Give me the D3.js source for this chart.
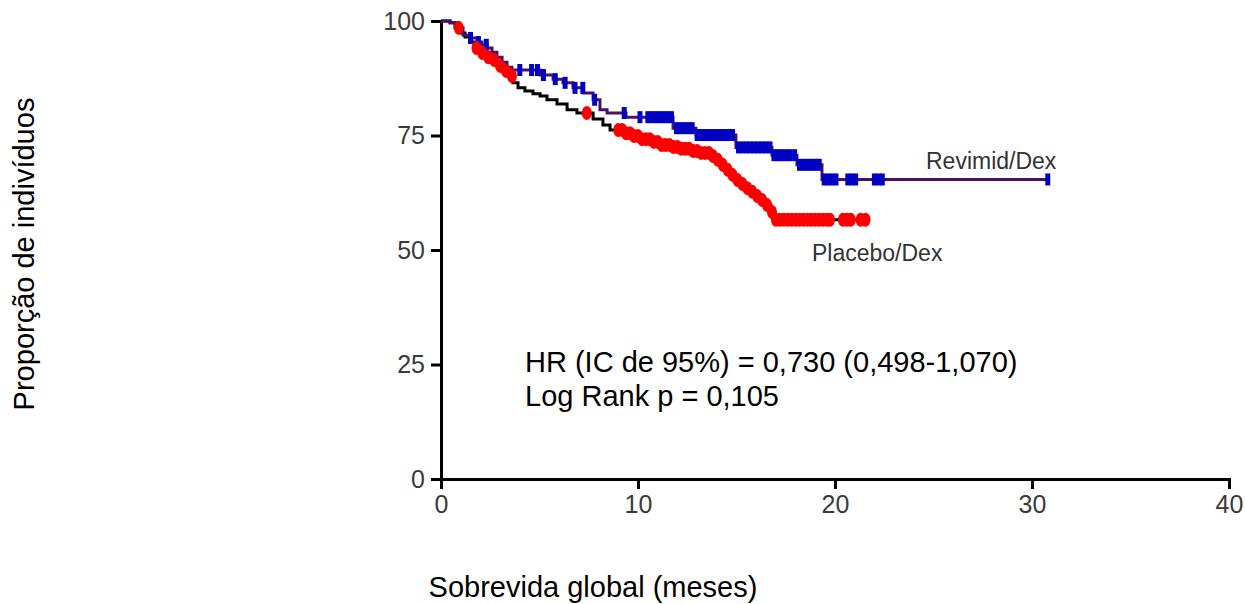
<!DOCTYPE html>
<html>
<head>
<meta charset="utf-8">
<script src="https://cdn.jsdelivr.net/npm/d3@7"></script>
<style>
  html, body { margin: 0; padding: 0; background: #fff; }
  svg { display: block; }
  text { font-family: "Liberation Sans", Arial, sans-serif; }
</style>
</head>
<body>
<svg id="chart" width="1245" height="604"></svg>
<script>
// ---- Data ----
const xTicks = [0, 10, 20, 30, 40];
const yTicks = [0, 25, 50, 75, 100];

// Revlimid/Dex: event times (months) and survival (%) after each step
const revTimes = [0.46, 0.81, 1.12, 1.47, 1.83, 2.08, 2.34, 2.59, 2.84, 3.10, 3.35, 3.60, 5.03, 5.69, 6.19, 6.70, 7.21, 7.72, 8.07, 8.43, 9.39, 11.78, 12.94, 14.97, 16.80, 18.07, 19.34];
const revSurv  = [99.6, 98.5, 96.9, 96.3, 95.4, 94.8, 94.1, 93.2, 92.1, 91.0, 89.9, 89.3, 88.2, 87.3, 86.5, 85.4, 84.3, 82.8, 80.6, 79.9, 79.0, 76.6, 75.1, 72.4, 70.7, 68.6, 65.4];
const revEnd = 30.8;
const revCensor = [1.5, 1.9, 2.3, 4.0, 4.6, 4.9, 5.2, 5.8, 6.3, 6.8, 7.2, 7.8, 9.3, 10.1,
  10.5, 10.7, 10.9, 11.1, 11.3, 11.5, 11.7,
  11.95, 12.15, 12.35, 12.55, 12.75,
  13.0, 13.2, 13.4, 13.6, 13.8, 14.0, 14.2, 14.4, 14.6, 14.8,
  15.1, 15.3, 15.5, 15.7, 15.9, 16.1, 16.3, 16.5, 16.7,
  16.9, 17.1, 17.3, 17.5, 17.7, 17.95,
  18.2, 18.4, 18.6, 18.8, 19.0, 19.2,
  19.45, 19.65, 19.85, 20.05, 20.65, 20.85, 21.05, 22.0, 22.2, 22.4, 30.8];

// Placebo/Dex
const plaTimes = [0.46, 0.71, 0.96, 1.22, 1.47, 1.73, 1.98, 2.23, 2.49, 2.84, 3.15, 3.40, 3.65, 3.91, 4.26, 4.67, 5.03, 5.38, 5.89, 6.40, 6.90, 7.72, 8.22, 8.58, 9.34, 9.75, 10.15, 10.61, 11.12, 11.62, 12.13, 12.64, 13.15, 13.65, 14.01, 14.26, 14.52, 14.77, 15.03, 15.28, 15.53, 15.79, 16.04, 16.29, 16.55, 16.75, 16.95];
const plaSurv  = [99.6, 98.5, 97.4, 96.5, 95.4, 94.1, 93.0, 92.1, 91.5, 90.2, 89.1, 88.0, 86.5, 85.4, 84.7, 84.1, 83.6, 82.8, 81.9, 80.6, 79.9, 78.6, 77.3, 76.2, 75.5, 74.9, 74.2, 73.6, 72.9, 72.5, 72.1, 71.6, 71.2, 70.5, 69.7, 68.6, 67.5, 66.4, 65.3, 64.4, 63.5, 62.7, 61.8, 60.9, 59.8, 58.3, 56.6];
const plaEnd = 21.6;
const plaCensor = [0.9, 1.8, 2.1, 2.4, 2.7, 3.0, 3.3, 3.6, 7.4,
  9.0, 9.2, 9.4, 9.6, 9.8, 10.0, 10.2, 10.4, 10.6, 10.8, 11.0, 11.2, 11.4, 11.6, 11.8, 12.0,
  12.2, 12.4, 12.6, 12.8, 13.0, 13.2, 13.4, 13.6, 13.8, 14.05, 14.3, 14.55, 14.8, 15.05,
  15.3, 15.55, 15.8, 16.05, 16.3, 16.55, 16.8, 17.0, 17.2, 17.4, 17.6, 17.8, 18.0, 18.2,
  18.4, 18.6, 18.8, 19.0, 19.2, 19.4, 19.6, 19.75, 20.4, 20.6, 20.8, 21.3, 21.55];

const labels = {
  rev: "Revimid/Dex",
  pla: "Placebo/Dex",
  hr: "HR (IC de 95%) = 0,730 (0,498-1,070)",
  lr: "Log Rank p = 0,105",
  xTitle: "Sobrevida global (meses)",
  yTitle: "Proporção de indivíduos"
};

// ---- Chart ----
const svg = d3.select("#chart");
const x = d3.scaleLinear().domain([0, 40]).range([441, 1229]);
const y = d3.scaleLinear().domain([0, 100]).range([479, 21]);

function stepPoints(times, surv, end) {
  const pts = [[0, 100]];
  times.forEach((t, i) => pts.push([t, surv[i]]));
  pts.push([end, surv[surv.length - 1]]);
  return pts;
}
function survAt(times, surv, t) {
  let s = 100;
  for (let i = 0; i < times.length; i++) { if (times[i] <= t) s = surv[i]; }
  return s;
}

const line = d3.line().x(d => x(d[0])).y(d => y(d[1])).curve(d3.curveStepAfter);

// Axes
const gx = svg.append("g").attr("transform", `translate(0,${y(0)})`)
  .call(d3.axisBottom(x).tickValues(xTicks).tickSize(10).tickSizeOuter(10).tickPadding(6).tickFormat(d3.format("d")));
const gy = svg.append("g").attr("transform", `translate(${x(0)},0)`)
  .call(d3.axisLeft(y).tickValues(yTicks).tickSize(10).tickSizeOuter(10).tickPadding(6).tickFormat(d3.format("d")));
[gx, gy].forEach(g => {
  g.select(".domain").attr("stroke", "#000").attr("stroke-width", 3);
  g.selectAll(".tick line").attr("stroke", "#000").attr("stroke-width", 3);
  g.selectAll(".tick text").attr("fill", "#3a3a3a").style("font-size", "25px")
    .style("font-family", "'Liberation Sans', Arial, sans-serif");
});

// Curves
svg.append("path").datum(stepPoints(plaTimes, plaSurv, plaEnd))
  .attr("d", line).attr("fill", "none").attr("stroke", "#000").attr("stroke-width", 3);
svg.append("path").datum(stepPoints(revTimes, revSurv, revEnd))
  .attr("d", line).attr("fill", "none").attr("stroke", "#4a1266").attr("stroke-width", 3);

// Censor marks
svg.append("g").selectAll("rect").data(revCensor).join("rect")
  .attr("x", d => x(d) - 2.5).attr("y", d => y(survAt(revTimes, revSurv, d)) - 6)
  .attr("width", 5).attr("height", 12).attr("fill", "#0000c4");
svg.append("g").selectAll("ellipse").data(plaCensor).join("ellipse")
  .attr("cx", d => x(d)).attr("cy", d => y(survAt(plaTimes, plaSurv, d)))
  .attr("rx", 5).attr("ry", 7).attr("fill", "#ff0000");

// Series labels
svg.append("text").attr("x", 926).attr("y", 169).text(labels.rev)
  .attr("fill", "#333").style("font-size", "23px");
svg.append("text").attr("x", 812).attr("y", 261).text(labels.pla)
  .attr("fill", "#333").style("font-size", "23px");

// Annotation
svg.append("text").attr("x", 525).attr("y", 372).text(labels.hr)
  .attr("fill", "#000").style("font-size", "29px");
svg.append("text").attr("x", 525).attr("y", 406).text(labels.lr)
  .attr("fill", "#000").style("font-size", "29px");

// Axis titles
svg.append("text").attr("x", 593).attr("y", 597).attr("text-anchor", "middle")
  .text(labels.xTitle).attr("fill", "#000").style("font-size", "29px");
svg.append("text").attr("transform", `translate(34,254) rotate(-90)`).attr("text-anchor", "middle")
  .text(labels.yTitle).attr("fill", "#000").style("font-size", "29px");
</script>
</body>
</html>
